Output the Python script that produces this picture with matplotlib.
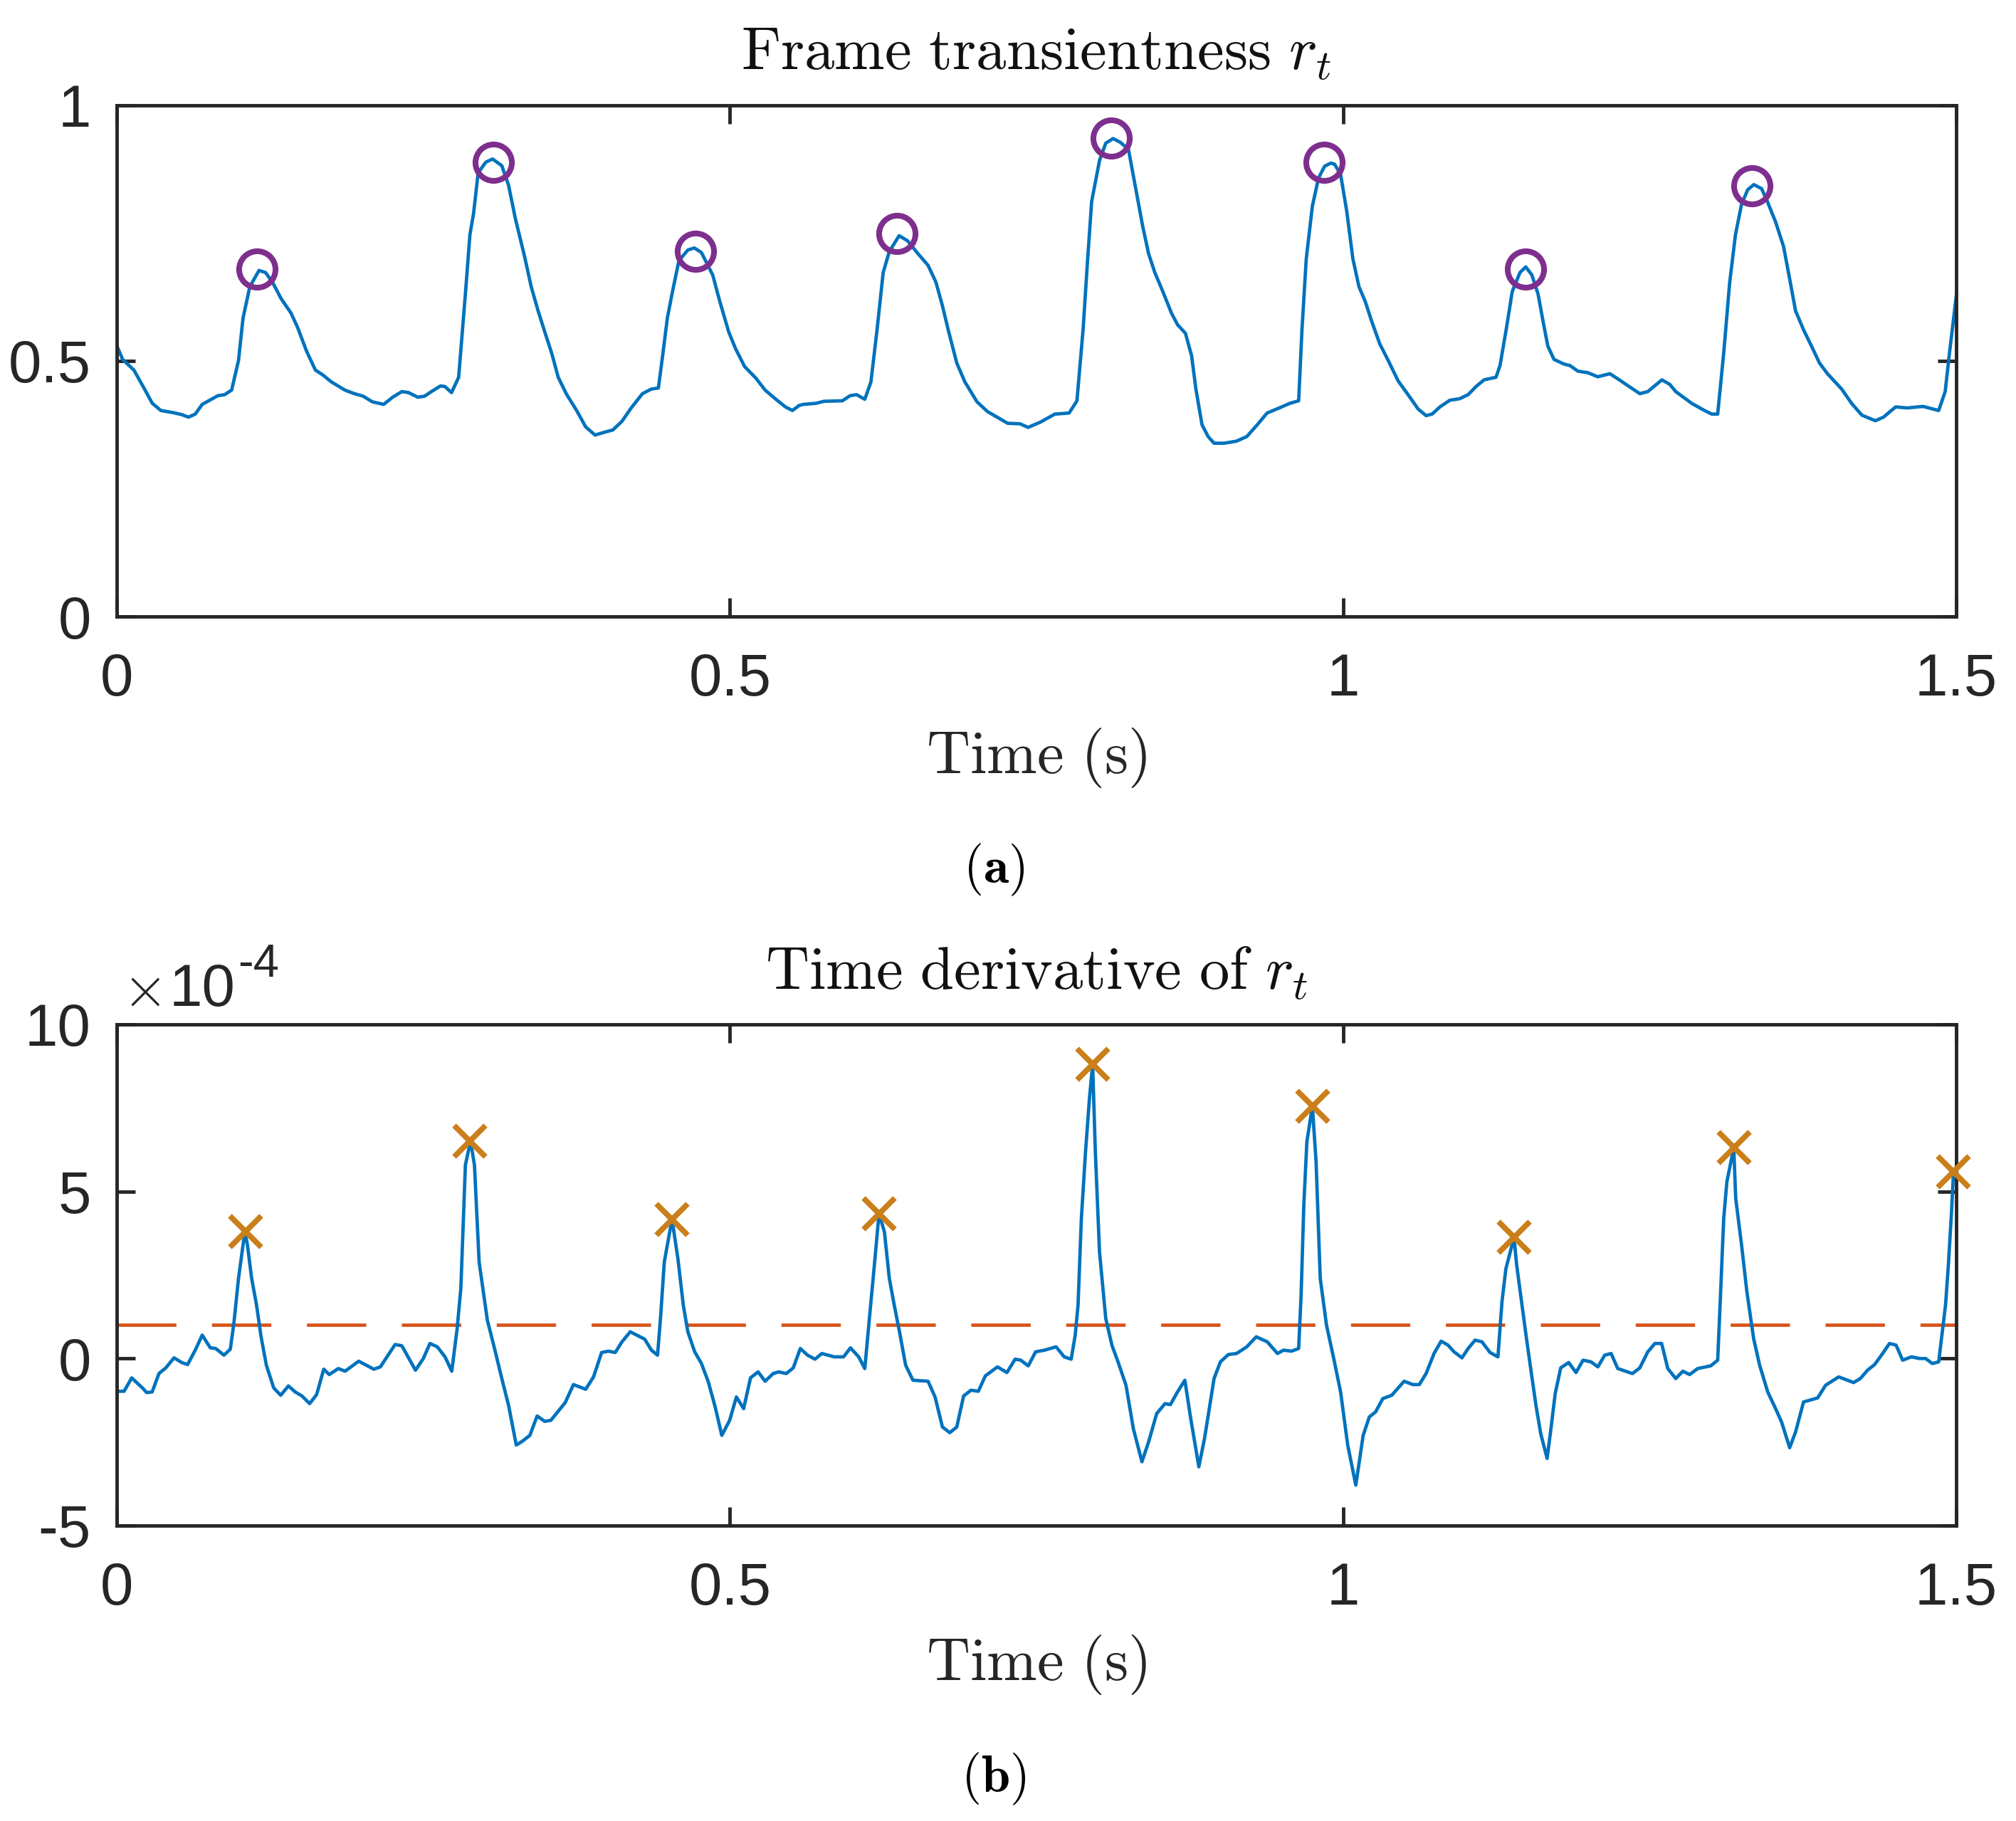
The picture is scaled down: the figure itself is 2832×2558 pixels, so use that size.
import numpy as np
import matplotlib
matplotlib.use("Agg")
import matplotlib.pyplot as plt

plt.rcParams['axes.unicode_minus'] = False
plt.rcParams['lines.scale_dashes'] = False

# ---------------- data ----------------
# (a) frame transientness r_t
r_time = [0.0, 0.0048, 0.014, 0.0215, 0.029, 0.036, 0.0456, 0.053, 0.0585, 0.064,
          0.0697, 0.0825, 0.088, 0.0937, 0.0993, 0.103, 0.1085, 0.116, 0.1213, 0.127,
          0.134, 0.142, 0.1474, 0.1548, 0.162, 0.1678, 0.175, 0.186, 0.1937, 0.201,
          0.2084, 0.2177, 0.225, 0.2325, 0.238, 0.2455, 0.251, 0.2566, 0.264, 0.2676,
          0.273, 0.2788, 0.2843, 0.288, 0.291, 0.2947, 0.301, 0.3065, 0.314, 0.3195,
          0.325, 0.3325, 0.338, 0.3436, 0.349, 0.3547, 0.360, 0.3665, 0.375, 0.3824,
          0.390, 0.397, 0.4046, 0.412, 0.4195, 0.4287, 0.436, 0.4417, 0.4454, 0.449,
          0.4528, 0.4584, 0.4657, 0.471, 0.4768, 0.486, 0.4917, 0.499, 0.5046, 0.512,
          0.5213, 0.5287, 0.538, 0.5453, 0.551, 0.5565, 0.560, 0.570, 0.5767, 0.5917,
          0.598, 0.6033, 0.610, 0.615, 0.620, 0.625, 0.630, 0.638, 0.6449, 0.6533,
          0.6616, 0.668, 0.6733, 0.678, 0.685, 0.6916, 0.7015, 0.710, 0.720, 0.7265,
          0.7365, 0.7432, 0.753, 0.765, 0.7766, 0.783, 0.788, 0.7915, 0.795, 0.8015,
          0.8065, 0.8125, 0.8182, 0.825, 0.830, 0.8365, 0.8414, 0.8465, 0.853, 0.860,
          0.865, 0.8715, 0.8765, 0.880, 0.885, 0.890, 0.8948, 0.903, 0.913, 0.9215,
          0.930, 0.938, 0.948, 0.9566, 0.9638, 0.9665, 0.970, 0.975, 0.980, 0.985,
          0.990, 0.993, 0.998, 1.003, 1.008, 1.013, 1.018, 1.023, 1.030, 1.0368,
          1.0449, 1.053, 1.0612, 1.0677, 1.0726, 1.079, 1.087, 1.095, 1.102, 1.1085,
          1.115, 1.1247, 1.128, 1.133, 1.138, 1.1443, 1.149, 1.154, 1.159, 1.1636,
          1.167, 1.172, 1.180, 1.185, 1.1915, 1.1996, 1.2077, 1.2176, 1.224, 1.232,
          1.242, 1.2485, 1.260, 1.2665, 1.2713, 1.2843, 1.294, 1.3006, 1.3055, 1.3104,
          1.3153, 1.320, 1.325, 1.330, 1.335, 1.3413, 1.346, 1.3527, 1.3592, 1.364,
          1.369, 1.3755, 1.382, 1.3885, 1.395, 1.4066, 1.4147, 1.423, 1.434, 1.4407,
          1.4506, 1.460, 1.473, 1.4857, 1.491, 1.4945, 1.4977, 1.5]
r_value = [0.530, 0.503, 0.482, 0.450, 0.417, 0.403, 0.399, 0.395, 0.390, 0.396,
           0.415, 0.432, 0.434, 0.443, 0.501, 0.584, 0.645, 0.677, 0.673, 0.654,
           0.622, 0.594, 0.566, 0.519, 0.482, 0.473, 0.459, 0.443, 0.436, 0.431,
           0.420, 0.415, 0.429, 0.440, 0.438, 0.429, 0.431, 0.440, 0.451, 0.450,
           0.438, 0.468, 0.631, 0.747, 0.789, 0.868, 0.889, 0.895, 0.882, 0.844,
           0.779, 0.705, 0.645, 0.598, 0.557, 0.515, 0.468, 0.436, 0.403, 0.371,
           0.355, 0.360, 0.365, 0.382, 0.408, 0.436, 0.445, 0.447, 0.515, 0.584,
           0.631, 0.696, 0.717, 0.721, 0.712, 0.668, 0.617, 0.557, 0.524, 0.489,
           0.466, 0.443, 0.424, 0.410, 0.403, 0.413, 0.415, 0.417, 0.421, 0.422,
           0.432, 0.434, 0.425, 0.459, 0.561, 0.673, 0.714, 0.745, 0.735, 0.710,
           0.687, 0.654, 0.608, 0.561, 0.496, 0.459, 0.420, 0.401, 0.387, 0.378,
           0.377, 0.370, 0.380, 0.396, 0.398, 0.422, 0.561, 0.691, 0.812, 0.893,
           0.926, 0.935, 0.928, 0.914, 0.849, 0.765, 0.710, 0.673, 0.636, 0.594,
           0.571, 0.554, 0.510, 0.445, 0.375, 0.352, 0.339, 0.339, 0.343, 0.352,
           0.375, 0.398, 0.408, 0.417, 0.422, 0.561, 0.700, 0.803, 0.858, 0.881,
           0.887, 0.885, 0.865, 0.793, 0.700, 0.645, 0.617, 0.580, 0.533, 0.501,
           0.461, 0.434, 0.406, 0.393, 0.396, 0.410, 0.423, 0.426, 0.434, 0.450,
           0.463, 0.468, 0.491, 0.561, 0.636, 0.673, 0.684, 0.668, 0.631, 0.571,
           0.529, 0.503, 0.494, 0.491, 0.480, 0.477, 0.469, 0.475, 0.465, 0.452,
           0.436, 0.440, 0.463, 0.454, 0.440, 0.417, 0.404, 0.396, 0.396, 0.515,
           0.654, 0.747, 0.807, 0.835, 0.845, 0.837, 0.812, 0.772, 0.724, 0.663,
           0.598, 0.561, 0.529, 0.496, 0.475, 0.445, 0.417, 0.394, 0.383, 0.390,
           0.410, 0.408, 0.411, 0.403, 0.440, 0.515, 0.580, 0.626]

r_peak_time = [0.1141, 0.3073, 0.472, 0.6365, 0.8108, 0.9847, 1.149, 1.3333]
r_peak_value = [0.680, 0.889, 0.715, 0.750, 0.936, 0.889, 0.680, 0.843]

# (b) time derivative of r_t, values in units of 1e-4
d_time = [0.0, 0.006, 0.0122, 0.0215, 0.0244, 0.0289, 0.0344, 0.040, 0.0467, 0.053,
          0.0578, 0.064, 0.0697, 0.0763, 0.0807, 0.0874, 0.0926, 0.0955, 0.0993, 0.1045,
          0.1066, 0.110, 0.114, 0.1177, 0.122, 0.128, 0.1337, 0.140, 0.1455, 0.151,
          0.1573, 0.163, 0.1688, 0.1733, 0.1807, 0.1862, 0.1973, 0.2096, 0.215, 0.227,
          0.2325, 0.2436, 0.250, 0.2554, 0.2614, 0.2677, 0.2732, 0.2776, 0.2806, 0.2843,
          0.2885, 0.2917, 0.2955, 0.3022, 0.3084, 0.314, 0.3195, 0.3258, 0.3306, 0.3369,
          0.3428, 0.349, 0.354, 0.3657, 0.3724, 0.3824, 0.3888, 0.3954, 0.401, 0.4065,
          0.412, 0.4187, 0.4305, 0.436, 0.441, 0.4436, 0.4465, 0.4528, 0.4576, 0.462,
          0.4657, 0.4713, 0.4768, 0.4824, 0.488, 0.4934, 0.4998, 0.5053, 0.5112, 0.5168,
          0.523, 0.5287, 0.5353, 0.5398, 0.546, 0.5517, 0.5574, 0.5633, 0.5694, 0.575,
          0.585, 0.5927, 0.5983, 0.605, 0.610, 0.614, 0.6173, 0.6216, 0.626, 0.630,
          0.634, 0.6383, 0.6433, 0.6493, 0.6616, 0.6673, 0.6733, 0.6793, 0.685, 0.6906,
          0.6966, 0.7026, 0.7083, 0.7182, 0.7259, 0.7326, 0.7372, 0.7433, 0.7493, 0.7566,
          0.766, 0.7726, 0.7783, 0.7816, 0.7839, 0.7866, 0.790, 0.7932, 0.7958, 0.798,
          0.8014, 0.8065, 0.8115, 0.8165, 0.823, 0.829, 0.836, 0.8415, 0.848, 0.8548,
          0.8592, 0.865, 0.871, 0.8758, 0.8824, 0.887, 0.8905, 0.8948, 0.900, 0.9065,
          0.9132, 0.9215, 0.9292, 0.9382, 0.9465, 0.9515, 0.958, 0.9638, 0.9658, 0.968,
          0.9705, 0.975, 0.978, 0.9814, 0.9865, 0.9924, 0.998, 1.0038, 1.0104, 1.0164,
          1.0214, 1.0265, 1.0324, 1.0397, 1.0433, 1.0498, 1.057, 1.0622, 1.0677, 1.0742,
          1.080, 1.0856, 1.0905, 1.097, 1.102, 1.1077, 1.1133, 1.1198, 1.1263, 1.1296,
          1.1328, 1.1394, 1.1416, 1.1452, 1.1492, 1.1534, 1.1573, 1.1612, 1.1664, 1.1697,
          1.173, 1.1775, 1.184, 1.19, 1.1957, 1.2022, 1.2078, 1.2134, 1.2186, 1.224,
          1.236, 1.242, 1.2485, 1.2543, 1.2598, 1.2648, 1.2713, 1.2771, 1.2826, 1.2892,
          1.2998, 1.3055, 1.3078, 1.3104, 1.313, 1.3186, 1.3202, 1.325, 1.3293, 1.3348,
          1.3397, 1.3463, 1.3521, 1.3576, 1.3642, 1.369, 1.3755, 1.387, 1.3935, 1.4042,
          1.4163, 1.4218, 1.4277, 1.4335, 1.44, 1.4456, 1.451, 1.4563, 1.4635, 1.470,
          1.475, 1.4805, 1.4857, 1.488, 1.4913, 1.4936, 1.4962, 1.4978]
d_value = [-0.98, -0.98, -0.58, -0.90, -1.02, -1.00, -0.45, -0.28, 0.02, -0.12,
           -0.18, 0.25, 0.70, 0.32, 0.30, 0.10, 0.28, 1.05, 2.40, 3.81,
           3.39, 2.40, 1.60, 0.65, -0.20, -0.88, -1.10, -0.82, -1.00, -1.12,
           -1.35, -1.08, -0.32, -0.48, -0.30, -0.38, -0.08, -0.32, -0.25, 0.42,
           0.38, -0.35, 0.00, 0.45, 0.35, 0.05, -0.38, 0.90, 2.10, 5.79,
           6.51, 5.79, 2.89, 1.15, 0.25, -0.60, -1.40, -2.59, -2.48, -2.30,
           -1.72, -1.88, -1.85, -1.32, -0.78, -0.92, -0.55, 0.18, 0.22, 0.18,
           0.50, 0.80, 0.58, 0.25, 0.10, 1.30, 2.89, 4.17, 2.99, 1.60,
           0.80, 0.20, -0.15, -0.70, -1.45, -2.30, -1.85, -1.15, -1.50, -0.58,
           -0.40, -0.68, -0.45, -0.40, -0.45, -0.28, 0.30, 0.10, -0.02, 0.15,
           0.05, 0.05, 0.32, 0.05, -0.30, 1.30, 2.59, 4.34, 3.79, 2.40,
           1.60, 0.80, -0.20, -0.65, -0.68, -1.15, -2.05, -2.22, -2.05, -1.12,
           -0.95, -0.98, -0.52, -0.25, -0.42, -0.02, -0.05, -0.22, 0.20, 0.25,
           0.35, 0.05, -0.02, 0.70, 1.60, 4.19, 6.19, 7.78, 8.81, 6.19,
           3.19, 1.20, 0.40, -0.10, -0.80, -2.10, -3.09, -2.49, -1.65, -1.35,
           -1.38, -1.00, -0.65, -1.80, -3.24, -2.40, -1.60, -0.60, -0.10, 0.12,
           0.15, 0.35, 0.65, 0.50, 0.15, 0.25, 0.22, 0.30, 1.90, 4.59,
           6.49, 7.55, 5.89, 2.40, 1.00, 0.00, -1.00, -2.59, -3.79, -2.30,
           -1.75, -1.60, -1.20, -1.10, -0.95, -0.68, -0.78, -0.78, -0.45, 0.15,
           0.52, 0.40, 0.20, 0.02, 0.30, 0.55, 0.50, 0.18, 0.05, 1.70,
           2.69, 3.62, 2.79, 1.80, 0.70, -0.40, -1.40, -2.25, -2.99, -2.05,
           -1.05, -0.28, -0.12, -0.42, -0.05, -0.10, -0.25, 0.10, 0.15, -0.30,
           -0.45, -0.28, 0.20, 0.45, 0.45, -0.30, -0.60, -0.38, -0.48, -0.30,
           -0.22, -0.05, 1.90, 4.19, 5.29, 6.31, 4.79, 3.39, 2.00, 0.60,
           -0.20, -1.00, -1.45, -1.90, -2.67, -2.20, -1.30, -1.18, -0.80, -0.55,
           -0.72, -0.60, -0.35, -0.18, 0.15, 0.45, 0.40, -0.05, 0.05, 0.00,
           0.00, -0.15, -0.10, 0.60, 1.60, 2.79, 4.39, 5.59]

d_peak_time = [0.1048, 0.288, 0.4528, 0.6216, 0.7958, 0.975, 1.1394, 1.3186, 1.4978]
d_peak_value = [3.81, 6.51, 4.17, 4.34, 8.81, 7.55, 3.62, 6.31, 5.59]

threshold = 1.0  # in units of 1e-4
scale = 1e-4

x_ticks = [0, 0.5, 1, 1.5]
x_ticklabels = ['0', '0.5', '1', '1.5']
r_yticks = [0, 0.5, 1]
r_yticklabels = ['0', '0.5', '1']
d_yticks = [-5, 0, 5, 10]
d_yticklabels = ['-5', '0', '5', '10']

# ---------------- style ----------------
BLUE = '#0072BD'
PURPLE = '#7E2F8E'
RED = '#D95319'
GOLD = '#CA7F1A'
AX = '#262626'
TICKFONT = 'Liberation Sans'
TICKSIZE = 30
LW = 1.7
SPINE = 1.75

W, H = 2832, 2558
DPI = 200
fig = plt.figure(figsize=(W / DPI, H / DPI), dpi=DPI)

def fx(px):
    return px / W

def fy(py):
    return 1 - py / H

ax1 = fig.add_axes([fx(164), fy(866), fx(2748) - fx(164), fy(148) - fy(866)])
ax2 = fig.add_axes([fx(164), fy(2143), fx(2748) - fx(164), fy(1439) - fy(2143)])

def style(ax):
    for s in ax.spines.values():
        s.set_linewidth(SPINE)
        s.set_color(AX)
    ax.tick_params(direction='in', length=9.4, width=SPINE, color=AX,
                   top=True, right=True, labelsize=TICKSIZE, labelcolor=AX)
    ax.tick_params(axis='x', pad=18)
    ax.tick_params(axis='y', pad=13)
    for lab in ax.get_xticklabels() + ax.get_yticklabels():
        lab.set_fontfamily(TICKFONT)

# (a)
ax1.plot(r_time, r_value, color=BLUE, lw=LW, zorder=2)
ax1.plot(r_peak_time, r_peak_value, linestyle='none', marker='o', ms=18.4,
         mfc='none', mec=PURPLE, mew=2.9, zorder=3)
ax1.set_xlim(0, 1.5)
ax1.set_ylim(0, 1)
ax1.set_xticks(x_ticks)
ax1.set_xticklabels(x_ticklabels)
ax1.set_yticks(r_yticks)
ax1.set_yticklabels(r_yticklabels)
style(ax1)

# (b)
ax2.plot(d_time, np.array(d_value) * scale, color=BLUE, lw=LW, zorder=2)
ax2.axhline(threshold * scale, color=RED, lw=LW, dashes=(30, 18), zorder=1)
ax2.plot(d_peak_time, np.array(d_peak_value) * scale, linestyle='none', marker='x',
         ms=15.5, mec=GOLD, mew=2.8, zorder=3, clip_on=False)
ax2.set_xlim(0, 1.5)
ax2.set_ylim(-5 * scale, 10 * scale)
ax2.set_xticks(x_ticks)
ax2.set_xticklabels(x_ticklabels)
ax2.set_yticks(np.array(d_yticks) * scale)
ax2.set_yticklabels(d_yticklabels)
style(ax2)

# titles, labels, captions
cx = fx(1456)
fig.text(cx, fy(98), r'$\mathrm{Frame\ transientness}\ r_t$', ha='center', va='baseline',
         fontsize=30.5, color='#111111', math_fontfamily='cm')
fig.text(cx, fy(1390), r'$\mathrm{Time\ derivative\ of}\ r_t$', ha='center', va='baseline',
         fontsize=30.5, color='#111111', math_fontfamily='cm')
fig.text(cx, fy(1086), r'$\mathrm{Time\ (s)}$', ha='center', va='baseline',
         fontsize=30.5, color=AX, math_fontfamily='cm')
fig.text(cx, fy(2360), r'$\mathrm{Time\ (s)}$', ha='center', va='baseline',
         fontsize=30.5, color=AX, math_fontfamily='cm')
fig.text(fx(1396), fy(1240), r'$(\mathbf{a})$', ha='center', va='baseline',
         fontsize=26, color='black', math_fontfamily='cm')
fig.text(fx(1396), fy(2517), r'$(\mathbf{b})$', ha='center', va='baseline',
         fontsize=26, color='black', math_fontfamily='cm')

# exponent label
fig.text(fx(172), fy(1413), r'$\times$', ha='left', va='baseline', fontsize=29,
         color=AX, math_fontfamily='cm')
fig.text(fx(238), fy(1413), '10', ha='left', va='baseline', fontsize=TICKSIZE,
         color=AX, family=TICKFONT)
fig.text(fx(334), fy(1372), '-4', ha='left', va='baseline', fontsize=23.5,
         color=AX, family=TICKFONT)

fig.savefig('out.png', dpi=DPI)
